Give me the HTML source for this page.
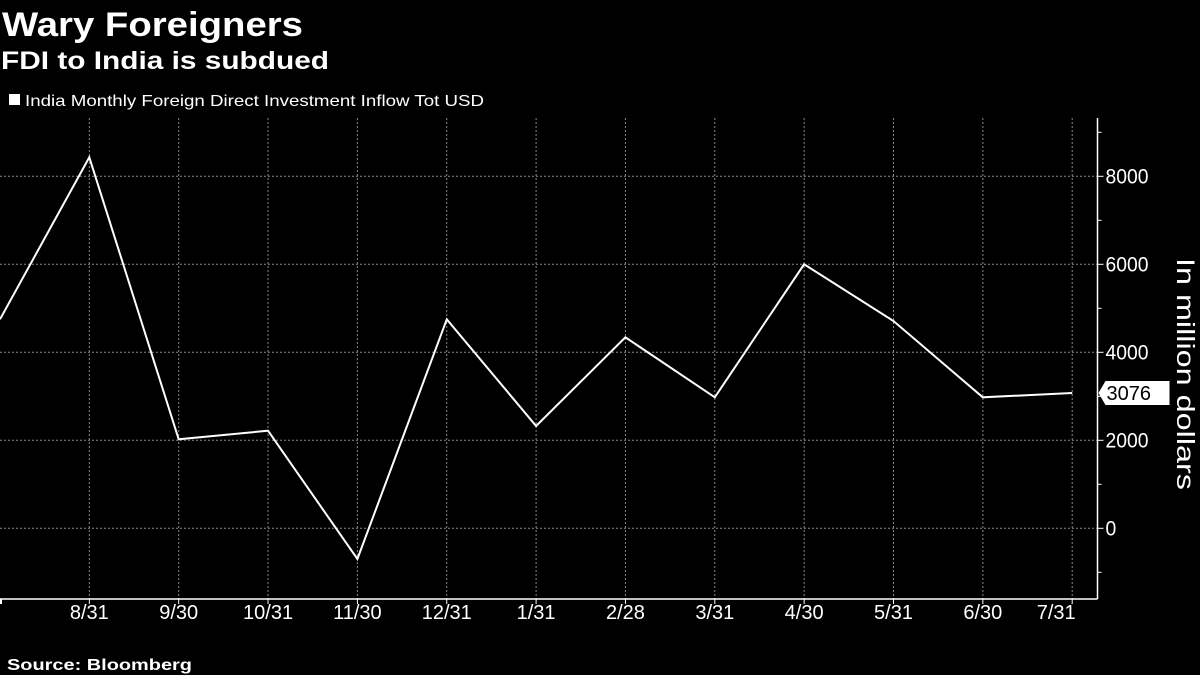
<!DOCTYPE html>
<html><head><meta charset="utf-8"><style>
html,body{margin:0;padding:0;background:#000;}
svg{display:block;font-family:"Liberation Sans","DejaVu Sans",sans-serif;}
</style></head><body>
<svg id="chart" width="1200" height="675" viewBox="0 0 1200 675" xmlns="http://www.w3.org/2000/svg">
<rect width="1200" height="675" fill="#000"/>
<text x="2" y="36" fill="#fff" font-weight="bold" font-size="34" textLength="301" lengthAdjust="spacingAndGlyphs">Wary Foreigners</text>
<text x="1" y="69" fill="#fff" font-weight="bold" font-size="25" textLength="328" lengthAdjust="spacingAndGlyphs">FDI to India is subdued</text>
<rect x="9" y="94" width="11" height="11" fill="#fff"/>
<text x="25" y="106" fill="#fff" font-size="16" textLength="459" lengthAdjust="spacingAndGlyphs">India Monthly Foreign Direct Investment Inflow Tot USD</text>
<g id="grid"></g>
<g id="axes"></g>
<g id="series"></g>
<text transform="translate(1177,374) rotate(90)" text-anchor="middle" fill="#fff" font-size="25" textLength="232" lengthAdjust="spacingAndGlyphs">In million dollars</text>
<text x="7" y="670" fill="#fff" font-weight="bold" font-size="16" textLength="185" lengthAdjust="spacingAndGlyphs">Source: Bloomberg</text>
</svg>
<script>
const categories = ["7/31","8/31","9/30","10/31","11/30","12/31","1/31","2/28","3/31","4/30","5/31","6/30","7/31"];
const values = [4750,8432,2023,2218,-698,4750,2325,4341,2977,6000,4711,2977,3076];
const yTicks = [0,2000,4000,6000,8000];
const yMinorTicks = [-1000,1000,3000,5000,7000,9000];
const lastLabel = "3076";

const NS="http://www.w3.org/2000/svg";
const X0=0, XSTEP=89.35, Y0=528.3, YPX=0.044;
const xPos=i=>X0+i*XSTEP;
const yPos=v=>Y0-v*YPX;
const AX=1097.5, TOP=118, BOT=599;
function mk(tag,attrs,parent){const e=document.createElementNS(NS,tag);for(const k in attrs)e.setAttribute(k,attrs[k]);parent.appendChild(e);return e;}
const grid=document.getElementById('grid'),axes=document.getElementById('axes'),series=document.getElementById('series');

yTicks.forEach(v=>{
  const l=mk('line',{x1:0,x2:AX,y1:yPos(v),y2:yPos(v),stroke:'#888','stroke-width':1,'stroke-dasharray':'2,2'},grid);
  
  
  const t=mk('line',{x1:AX,x2:AX+6,y1:yPos(v),y2:yPos(v),stroke:'#fff','stroke-width':1},axes);
  
  
  const tx=mk('text',{x:AX+8,y:yPos(v)+7,fill:'#fff','font-size':21,transform:`translate(${AX+8},0) scale(0.92,1) translate(${-(AX+8)},0)`},axes);
  tx.textContent=v;
  
  
});
yMinorTicks.forEach(v=>{
  const y=yPos(v); if(y<TOP||y>BOT)return;
  const t=mk('line',{x1:AX,x2:AX+4,y1:y,y2:y,stroke:'#fff','stroke-width':1},axes);
  
  
});
categories.forEach((c,i)=>{
  const x=xPos(i);
  if(i>0){
    const g=mk('line',{x1:x,x2:x,y1:TOP,y2:BOT,stroke:'#888','stroke-width':1,'stroke-dasharray':'2,2'},grid);
    
    
    const lx = i===categories.length-1 ? x-16 : x;
    const tx=mk('text',{x:lx,y:619,fill:'#fff','font-size':20,'text-anchor':'middle'},axes);
    tx.textContent=c;
    
    
  }
  const t=mk('line',{x1:Math.max(x,1),x2:Math.max(x,1),y1:BOT,y2:BOT+5,stroke:'#fff','stroke-width':i==0?2:1},axes);
  
  
});
const xa=mk('line',{x1:0,x2:AX,y1:BOT,y2:BOT,stroke:'#fff','stroke-width':1.5},axes);


const ya=mk('line',{x1:AX,x2:AX,y1:TOP,y2:BOT,stroke:'#fff','stroke-width':1.5},axes);



const pts=values.map((v,i)=>xPos(i).toFixed(1)+','+yPos(v).toFixed(1)).join(' ');
const line=mk('polyline',{points:pts,fill:'none',stroke:'#fff','stroke-width':2,'stroke-linejoin':'miter'},series);



const ly=yPos(values[values.length-1]);
const tag=mk('path',{d:`M${AX+1},${ly} L${AX+8},${ly-12} L${AX+72},${ly-12} L${AX+72},${ly+12} L${AX+8},${ly+12} Z`,fill:'#fff'},axes);


const lt=mk('text',{x:AX+9,y:ly+7,fill:'#000','font-size':20},axes);
lt.textContent=lastLabel;


</script>
</body></html>
